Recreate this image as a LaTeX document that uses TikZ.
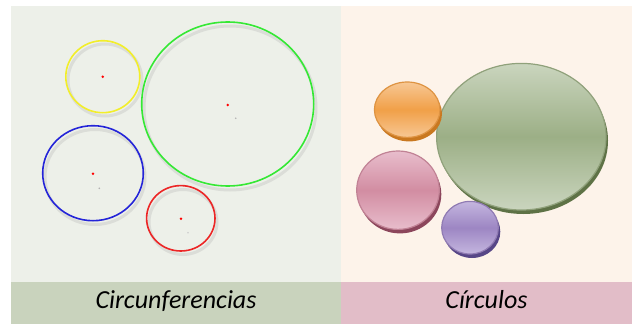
\documentclass[tikz,border=0pt]{standalone}
\usepackage{fontspec}
\setmainfont{Carlito}
\definecolor{leftbg}{HTML}{EDF0E9}
\definecolor{leftbar}{HTML}{C9D3BD}
\definecolor{rightbg}{HTML}{FDF3EA}
\definecolor{rightbar}{HTML}{E2BDC8}
\definecolor{cyel}{HTML}{F2EE2A}
\definecolor{cgrn}{HTML}{35E835}
\definecolor{cblu}{HTML}{2424D8}
\definecolor{cred}{HTML}{EC2626}
\definecolor{orgmid}{HTML}{F1A048}
\definecolor{orglt}{HTML}{F7C794}
\definecolor{orgdk}{HTML}{C97820}
\definecolor{grnmid}{HTML}{9CAF86}
\definecolor{grnlt}{HTML}{CAD5BE}
\definecolor{grndk}{HTML}{5E7246}
\definecolor{pnkmid}{HTML}{D28DA2}
\definecolor{pnklt}{HTML}{E8BDCC}
\definecolor{pnkdk}{HTML}{8C465C}
\definecolor{prpmid}{HTML}{9D86C3}
\definecolor{prplt}{HTML}{C4B6DF}
\definecolor{prpdk}{HTML}{574687}
\tikzset{
  ring/.style={line width=1.6pt},
  ringshadow/.style={draw=black!35, opacity=0.25, line width=3pt},
  ctr/.style={fill=red},
  labeltext/.style={font=\itshape\fontsize{26}{30}\selectfont, text=black, inner sep=0pt, anchor=base},
}
\newcommand{\disc}[8]{% cx cy rx ry dark light mid dx
  \fill[#5] (#1+#8,#2+4) ellipse [x radius=#3, y radius=#4];
  \shade[top color=#6, bottom color=#6, middle color=#7, draw=#7!92!black, line width=1.2pt]
    (#1,#2) ellipse [x radius=#3, y radius=#4];
}
\begin{document}
\begin{tikzpicture}[x=1pt,y=-1pt]
\useasboundingbox (0,0) rectangle (637,324);
\fill[white] (0,0) rectangle (637,324);
% panels
\fill[leftbg] (11,6) rectangle (341,282);
\fill[leftbar] (11,282) rectangle (341,324);
\fill[rightbg] (341,6) rectangle (632,282);
\fill[rightbar] (341,282) rectangle (632,324);
% left: circumferences with shadows
\draw[ringshadow] (105,80) ellipse [x radius=37, y radius=36];
\draw[ringshadow] (230,108) ellipse [x radius=86, y radius=82];
\draw[ringshadow] (95,177) ellipse [x radius=50, y radius=47.5];
\draw[ringshadow] (183,222) ellipse [x radius=34, y radius=32.5];
\draw[ring, cyel] (102.8,76.7) ellipse [x radius=37, y radius=36];
\draw[ring, cgrn] (227.7,104) ellipse [x radius=86, y radius=82];
\draw[ring, cblu] (93,173.2) ellipse [x radius=50.3, y radius=47.5];
\draw[ring, cred] (180.8,218.3) ellipse [x radius=34.2, y radius=32.7];
% centres
\fill[black!30] (235.7,118.3) circle (0.9);
\fill[black!30] (99.3,188.3) circle (0.9);
\fill[black!20] (188,232.7) circle (0.8);
\fill[ctr] (102.7,76.7) circle (1.4);
\fill[ctr] (227.7,105) circle (1.4);
\fill[ctr] (93,173.7) circle (1.4);
\fill[ctr] (181,218.7) circle (1.4);
% right: discs
\disc{521.3}{136.7}{84.7}{73.3}{grndk}{grnlt}{grnmid}{2}
\disc{407.2}{109.7}{32.8}{27.7}{orgdk}{orglt}{orgmid}{2}
\disc{398}{190.2}{41.3}{39.2}{pnkdk}{pnklt}{pnkmid}{2}
\disc{470}{227.7}{28.3}{26.3}{prpdk}{prplt}{prpmid}{2}
% labels
\node[labeltext] (lcirc) at (176,308) {Circunferencias};
\node[labeltext] (rcirc) at (486.5,308) {Círculos};
\end{tikzpicture}
\end{document}
